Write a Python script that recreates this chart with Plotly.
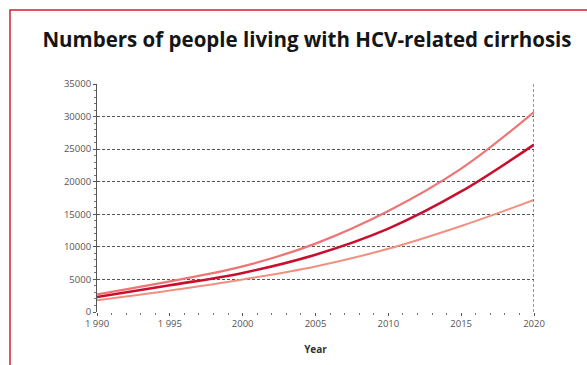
import plotly.graph_objects as go

years = [1990, 1995, 2000, 2005, 2010, 2015, 2020]
upper = [2700, 4700, 7000, 10500, 15500, 22000, 30700]
middle = [2300, 4100, 6000, 8800, 12800, 18500, 25700]
lower = [1800, 3300, 5000, 7000, 9700, 13200, 17200]

x_ticks = [1990, 1995, 2000, 2005, 2010, 2015, 2020]
x_tick_text = ["1 990", "1 995", "2000", "2005", "2010", "2015", "2020"]
y_ticks = [0, 5000, 10000, 15000, 20000, 25000, 30000, 35000]

fig = go.Figure()
for vals, col, w in [(upper, "#ef7474", 2.2), (lower, "#f29080", 2.0), (middle, "#c8102e", 2.6)]:
    fig.add_trace(go.Scatter(x=years, y=vals, mode="lines",
                             line=dict(color=col, width=w, shape="spline", smoothing=1.0),
                             showlegend=False, hoverinfo="skip"))

W, H = 587, 365
ml, mr, mt, mb = 97, 53, 84, 53
pw, ph = W - ml - mr, H - mt - mb

fig.update_layout(
    width=W, height=H,
    margin=dict(l=ml, r=mr, t=mt, b=mb),
    paper_bgcolor="white", plot_bgcolor="white",
    title=dict(text="<b>Numbers of people living with HCV-related cirrhosis</b>",
               x=307 / W, xanchor="center", xref="container", y=1 - 40 / H, yanchor="middle",
               font=dict(family="Open Sans", size=20.5, color="#151515")),
    font=dict(family="Open Sans", color="#555555"),
    xaxis=dict(range=[years[0], years[-1]], tickvals=x_ticks, ticktext=x_tick_text,
               showgrid=False, zeroline=False, showline=False,
               ticks="outside", ticklen=3, tickcolor="#555", tickfont=dict(size=9.5, color="#555"),
               minor=dict(ticks="outside", ticklen=2, tickcolor="#777", dtick=1),
               title=dict(text="<b>Year</b>", font=dict(size=10, color="#333"), standoff=16)),
    yaxis=dict(range=[0, 35000], tickvals=y_ticks, ticktext=[str(v) for v in y_ticks],
               showgrid=True, gridcolor="#555555", gridwidth=1.2, griddash="3px,2px",
               zeroline=False, showline=True, linecolor="#555", linewidth=1,
               ticks="outside", ticklen=3, tickcolor="#555", tickfont=dict(size=9.5, color="#555"),
               minor=dict(ticks="outside", ticklen=2, tickcolor="#777", dtick=1000)),
)

# right-hand dashed frame line at last year
fig.add_vline(x=years[-1], line=dict(color="#555555", width=1.2, dash="3px,2px"))

# red page frame (top and left edges visible)
fig.add_shape(type="rect", xref="paper", yref="paper",
              x0=(10 - ml) / pw, x1=2.0, y0=-2.0, y1=(H - mb - 10) / ph,
              line=dict(color="#d0202e", width=1.5), fillcolor="rgba(0,0,0,0)", layer="above")

fig.write_html("out.html")
